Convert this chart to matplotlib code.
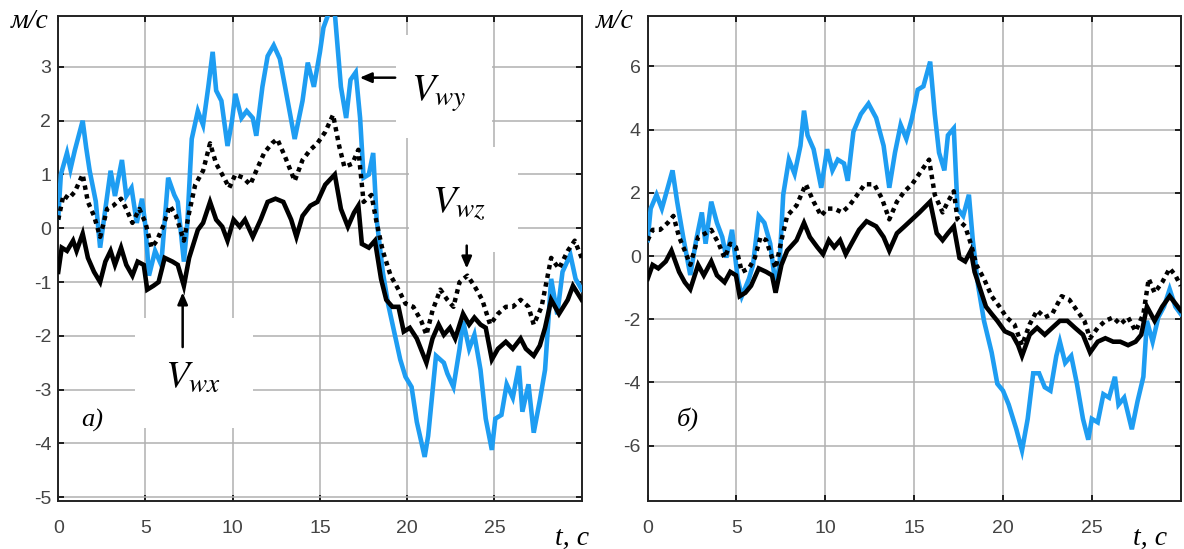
import numpy as np
import matplotlib.pyplot as plt
from matplotlib.patches import Rectangle

plt.rcParams['mathtext.fontset'] = 'stix'
plt.rcParams['axes.unicode_minus'] = False

# ---- panel a) ----
ta_y = [0, 0.15, 0.5, 0.7, 0.95, 1.4, 1.6, 1.8, 2.15, 2.4, 2.7, 3.0, 3.25, 3.65, 3.9, 4.2, 4.5, 4.8, 5.0, 5.2,
        5.55, 5.9, 6.3, 6.65, 6.85, 7.2, 7.4, 7.65, 8.0, 8.3, 8.6, 8.85, 9.05, 9.35, 9.7, 9.95, 10.15, 10.5, 10.8,
        11.15, 11.35, 11.7, 12.0, 12.35, 12.7, 13.0, 13.55, 14.0, 14.3, 14.65, 15.0, 15.2, 15.5, 15.85, 16.2, 16.5,
        16.75, 17.05, 17.3, 17.5, 17.8, 18.05, 18.25, 18.6, 18.9, 19.25, 19.6, 19.9, 20.25, 20.55, 21.0, 21.2,
        21.65, 22.1, 22.3, 22.65, 23.0, 23.2, 23.55, 23.85, 24.2, 24.5, 24.85, 25.05, 25.4, 25.7, 26.05, 26.4,
        26.6, 26.95, 27.25, 27.6, 27.9, 28.25, 28.6, 28.9, 29.35, 29.65, 30.0]
va_y = [0.2, 1.0, 1.4, 1.1, 1.45, 2.0, 1.5, 1.07, 0.5, -0.36, 0.36, 1.07, 0.6, 1.27, 0.6, 0.75, 0.1, 0.55, 0.03,
        -0.88, -0.42, -0.68, 0.94, 0.62, 0.49, -0.62, 0.1, 1.66, 2.18, 1.92, 2.63, 3.28, 2.56, 2.37, 1.53, 1.98,
        2.5, 2.05, 2.18, 2.05, 1.72, 2.63, 3.2, 3.4, 3.15, 2.63, 1.66, 2.37, 3.08, 2.63, 3.28, 3.73, 4.0, 4.0,
        2.63, 2.05, 2.76, 2.9, 2.05, 0.94, 1.0, 1.4, 0.16, -0.81, -1.4, -1.92, -2.44, -2.76, -2.95, -3.6, -4.25,
        -3.86, -2.37, -2.5, -2.7, -2.95, -2.24, -1.72, -2.24, -1.98, -2.63, -3.54, -4.12, -3.54, -3.47, -2.9,
        -3.15, -2.56, -3.41, -2.9, -3.8, -3.2, -2.63, -0.94, -1.6, -0.81, -0.49, -0.94, -1.14]

ta_x = [0, 0.2, 0.5, 0.85, 1.05, 1.4, 1.7, 2.05, 2.4, 2.7, 3.0, 3.25, 3.6, 3.9, 4.25, 4.55, 4.9, 5.1, 5.45, 5.75,
        6.1, 6.55, 6.85, 7.2, 7.5, 8.0, 8.3, 8.7, 9.05, 9.4, 9.7, 10.05, 10.4, 10.7, 11.15, 11.6, 12.0, 12.45,
        12.9, 13.35, 13.65, 14.0, 14.45, 14.85, 15.3, 15.85, 16.2, 16.6, 16.95, 17.2, 17.4, 17.8, 18.15, 18.5,
        18.8, 19.15, 19.5, 19.8, 20.15, 20.55, 21.1, 21.45, 21.8, 22.1, 22.45, 22.75, 23.2, 23.55, 23.85, 24.2,
        24.5, 24.85, 25.2, 25.65, 26.05, 26.5, 26.8, 27.25, 27.6, 27.9, 28.25, 28.7, 29.2, 29.5, 30.0]
va_x = [-0.81, -0.36, -0.42, -0.23, -0.42, -0.1, -0.55, -0.81, -1.0, -0.62, -0.42, -0.68, -0.36, -0.68, -0.88,
        -0.62, -0.68, -1.14, -1.07, -1.0, -0.55, -0.62, -0.68, -1.07, -0.55, -0.03, 0.1, 0.49, 0.16, 0.03, -0.23,
        0.16, 0.03, 0.16, -0.16, 0.16, 0.49, 0.55, 0.49, 0.16, -0.16, 0.23, 0.42, 0.49, 0.81, 1.0, 0.36, 0.03,
        0.29, 0.42, -0.29, -0.36, -0.23, -0.94, -1.33, -1.46, -1.46, -1.92, -1.85, -2.05, -2.5, -2.05, -1.79,
        -1.98, -1.85, -2.05, -1.59, -1.79, -1.66, -1.79, -1.85, -2.44, -2.24, -2.11, -2.24, -2.05, -2.24, -2.37,
        -2.18, -1.85, -1.33, -1.59, -1.33, -1.07, -1.33]

ta_z = [0, 0.3, 0.6, 0.95, 1.4, 1.7, 2.05, 2.4, 2.8, 3.15, 3.6, 3.9, 4.25, 4.65, 5.0, 5.35, 5.65, 6.0, 6.4, 6.75,
        7.2, 7.5, 7.85, 8.3, 8.7, 9.05, 9.5, 9.8, 10.15, 10.6, 11.0, 11.35, 11.8, 12.25, 12.55, 13.0, 13.55, 14.0,
        14.45, 14.85, 15.3, 15.75, 16.1, 16.4, 16.85, 17.2, 17.5, 17.95, 18.25, 18.6, 19.05, 19.5, 19.9, 20.35,
        20.8, 21.1, 21.45, 21.9, 22.3, 22.65, 23.0, 23.45, 23.85, 24.3, 24.75, 25.2, 25.65, 26.05, 26.5, 26.95,
        27.25, 27.7, 28.25, 28.7, 29.2, 29.6, 30.0]
va_z = [0.16, 0.62, 0.55, 0.68, 1.0, 0.49, 0.23, -0.16, 0.36, 0.42, 0.55, 0.36, 0.1, 0.36, 0.1, -0.36, -0.23,
        0.03, 0.42, 0.23, -0.23, 0.29, 0.81, 1.07, 1.58, 1.2, 0.94, 0.75, 1.0, 0.94, 0.81, 1.07, 1.4, 1.58, 1.66,
        1.33, 0.88, 1.27, 1.46, 1.58, 1.79, 2.11, 1.53, 1.14, 1.2, 1.46, 0.49, 0.62, 0.1, -0.42, -0.88, -1.14,
        -1.4, -1.46, -1.72, -1.98, -1.53, -1.14, -1.33, -1.46, -1.0, -0.88, -1.07, -1.33, -1.79, -1.59, -1.46,
        -1.46, -1.33, -1.46, -1.79, -1.46, -0.55, -0.75, -0.42, -0.23, -0.55]

# ---- panel б) ----
tb_y = [0, 0.17, 0.5, 0.8, 1.13, 1.4, 1.66, 2.0, 2.4, 2.73, 3.05, 3.26, 3.58, 3.9, 4.2, 4.43, 4.75, 5.07, 5.3,
        5.7, 5.93, 6.25, 6.57, 6.9, 7.2, 7.42, 7.63, 7.95, 8.27, 8.6, 8.8, 9.0, 9.34, 9.77, 10.1, 10.4, 10.7,
        11.05, 11.26, 11.58, 12.0, 12.43, 12.86, 13.28, 13.6, 13.92, 14.24, 14.56, 14.88, 15.2, 15.52, 15.9,
        16.16, 16.4, 16.7, 16.9, 17.23, 17.44, 17.76, 18.08, 18.3, 18.6, 18.93, 19.36, 19.68, 20.0, 20.32, 20.75,
        21.07, 21.39, 21.7, 22.03, 22.35, 22.67, 23.0, 23.2, 23.5, 23.84, 24.16, 24.5, 24.8, 25.0, 25.33, 25.65,
        25.97, 26.3, 26.5, 26.82, 27.25, 27.57, 27.9, 28.1, 28.42, 28.74, 29.06, 29.38, 29.7, 30.0]
vb_y = [0.5, 1.5, 1.94, 1.5, 2.16, 2.71, 1.72, 0.6, -0.6, 0.5, 1.38, 0.39, 1.72, 1.05, 0.6, -0.05, 0.83, -0.72,
        -1.27, -0.72, -0.28, 1.27, 1.05, 0.39, -0.94, -0.28, 1.94, 3.05, 2.6, 3.49, 4.6, 3.82, 3.38, 2.16, 3.38,
        2.71, 3.05, 2.93, 2.38, 3.93, 4.49, 4.82, 4.37, 3.49, 2.16, 3.27, 4.15, 3.71, 4.37, 5.26, 5.37, 6.15,
        4.49, 3.27, 2.71, 3.82, 4.04, 1.5, 1.27, 1.94, 0.5, -0.94, -2.05, -3.05, -4.04, -4.26, -4.7, -5.48, -6.15,
        -5.15, -3.71, -3.71, -4.15, -4.26, -3.16, -2.71, -3.38, -3.16, -4.04, -5.15, -5.81, -5.15, -5.26, -4.37,
        -4.48, -3.82, -4.7, -4.48, -5.48, -4.6, -3.82, -2.05, -2.71, -1.94, -1.6, -1.05, -1.6, -1.83]

tb_x = [0, 0.28, 0.6, 1.02, 1.34, 1.77, 2.09, 2.4, 2.84, 3.16, 3.58, 3.9, 4.33, 4.65, 4.97, 5.18, 5.5, 5.82,
        6.25, 6.67, 7.0, 7.2, 7.53, 7.85, 8.38, 8.8, 9.13, 9.55, 9.87, 10.2, 10.5, 10.83, 11.15, 11.47, 11.9,
        12.32, 12.86, 13.28, 13.6, 14.03, 14.46, 14.88, 15.3, 15.9, 16.27, 16.6, 16.9, 17.23, 17.55, 17.87, 18.19,
        18.4, 18.72, 19.04, 19.36, 19.68, 20.1, 20.53, 20.85, 21.07, 21.5, 21.92, 22.35, 22.77, 23.2, 23.62,
        24.05, 24.5, 24.9, 25.33, 25.76, 26.2, 26.6, 27.04, 27.46, 27.78, 28.1, 28.53, 28.96, 29.38, 29.7, 30.0]
vb_x = [-0.72, -0.28, -0.39, -0.17, 0.17, -0.5, -0.83, -1.05, -0.28, -0.61, -0.17, -0.61, -0.83, -0.5, -0.61,
        -1.27, -1.16, -0.94, -0.39, -0.5, -0.61, -1.16, -0.28, 0.17, 0.5, 1.05, 0.6, 0.28, 0.06, 0.5, 0.28, 0.5,
        0.06, 0.39, 0.83, 1.1, 0.94, 0.6, 0.17, 0.72, 0.94, 1.16, 1.38, 1.72, 0.72, 0.5, 0.72, 0.94, -0.06, -0.17,
        0.17, -0.5, -1.05, -1.6, -1.83, -2.05, -2.38, -2.49, -2.82, -3.16, -2.49, -2.27, -2.49, -2.27, -2.05,
        -2.05, -2.27, -2.49, -3.05, -2.71, -2.6, -2.71, -2.71, -2.82, -2.71, -2.49, -1.6, -2.05, -1.6, -1.27,
        -1.5, -1.72]

tb_z = [0, 0.28, 0.7, 1.13, 1.45, 1.77, 2.09, 2.4, 2.84, 3.26, 3.58, 4.0, 4.33, 4.65, 4.97, 5.3, 5.7, 6.03, 6.35,
        6.67, 7.2, 7.53, 7.85, 8.38, 8.9, 9.34, 9.77, 10.1, 10.5, 10.94, 11.36, 11.8, 12.22, 12.75, 13.18, 13.6,
        14.03, 14.46, 14.88, 15.42, 15.84, 16.16, 16.6, 16.9, 17.23, 17.44, 17.87, 18.19, 18.5, 18.93, 19.36,
        19.8, 20.2, 20.64, 21.07, 21.5, 21.92, 22.35, 22.77, 23.3, 23.73, 24.16, 24.58, 24.9, 25.33, 25.76, 26.2,
        26.6, 27.04, 27.46, 27.9, 28.2, 28.53, 28.96, 29.38, 29.7, 30.0]
vb_z = [0.5, 0.83, 0.83, 1.05, 1.27, 0.6, 0.17, -0.28, 0.6, 0.72, 0.83, 0.39, -0.06, 0.39, 0.28, -0.5, -0.39,
        -0.06, 0.6, 0.5, -0.39, 0.5, 1.27, 1.6, 2.27, 1.72, 1.27, 1.5, 1.5, 1.38, 1.6, 1.94, 2.27, 2.27, 1.83,
        1.16, 1.72, 2.05, 2.27, 2.71, 3.05, 1.94, 1.38, 1.72, 2.05, 1.16, 0.94, 0.39, -0.28, -0.72, -1.27, -1.6,
        -1.94, -2.16, -2.82, -2.16, -1.72, -1.94, -1.83, -1.27, -1.38, -1.72, -2.05, -2.6, -2.27, -2.05, -1.94,
        -2.16, -1.94, -2.38, -1.83, -0.72, -1.16, -0.83, -0.39, -0.61, -0.94]

blue = '#1e9df2'
tick_col = '#444444'

fig = plt.figure(figsize=(11.84, 5.49), dpi=100)
ax1 = fig.add_axes([0.0492, 0.0874, 0.4421, 0.8838])
ax2 = fig.add_axes([0.547, 0.0874, 0.4502, 0.8838])


def style_axes(ax, yticks, ylim):
    ax.set_xlim(0, 30)
    ax.set_ylim(*ylim)
    ax.set_xticks([0, 5, 10, 15, 20, 25])
    ax.set_yticks(yticks)
    ax.set_axisbelow(True)
    ax.grid(True, color='#b0b0b0', linewidth=1.1)
    for s in ax.spines.values():
        s.set_color('#222222')
        s.set_linewidth(1.4)
    ax.tick_params(axis='both', direction='in', length=4, width=1.2,
                   top=True, right=True, labelcolor=tick_col, labelsize=14)
    ax.tick_params(axis='x', pad=14)
    ax.tick_params(axis='y', pad=5)
    for lb in ax.get_xticklabels() + ax.get_yticklabels():
        lb.set_family('Liberation Sans')


def draw(ax, t1, v1, t2, v2, t3, v3):
    ax.plot(t1, v1, color=blue, lw=3.3, solid_joinstyle='miter', zorder=3)
    ax.plot(t2, v2, color='black', lw=3.3, solid_joinstyle='miter', zorder=4)
    ax.plot(t3, v3, color='black', lw=3.2, linestyle=(0, (1, 1.0)), zorder=5)


draw(ax1, ta_y, va_y, ta_x, va_x, ta_z, va_z)
draw(ax2, tb_y, vb_y, tb_x, vb_x, tb_z, vb_z)
style_axes(ax1, [-5, -4, -3, -2, -1, 0, 1, 2, 3], (-5.07, 3.95))
style_axes(ax2, [-6, -4, -2, 0, 2, 4, 6], (-7.75, 7.6))

# white patches behind the labels
for (x0, y0, w, h) in [(19.36, 1.68, 5.5, 1.92), (20.1, -0.44, 6.25, 1.95), (4.4, -3.71, 6.76, 2.05)]:
    ax1.add_patch(Rectangle((x0, y0), w, h, facecolor='white', edgecolor='none', zorder=1))

lab = dict(fontsize=28, color='black', zorder=6)
ax1.text(20.2, 2.5, '$V_{wy}$', ha='left', va='center', **lab)
ax1.text(21.4, 0.45, '$V_{wz}$', ha='left', va='center', **lab)
ax1.text(6.1, -2.75, '$V_{wx}$', ha='left', va='center', **lab)
arr = dict(arrowstyle='-|>,head_length=0.7,head_width=0.3', color='black', lw=1.8)
ax1.annotate('', xy=(17.12, 2.8), xytext=(19.47, 2.8), arrowprops=arr, zorder=6)
ax1.annotate('', xy=(23.41, -0.8), xytext=(23.41, -0.27), arrowprops=arr, zorder=6)
ax1.annotate('', xy=(7.13, -1.14), xytext=(7.13, -2.26), arrowprops=arr, zorder=6)

serif = dict(family='Liberation Serif', style='italic', color='black')
ax1.text(1.94, -3.58, 'a)', ha='center', va='center', fontsize=19, **serif)
ax2.text(2.27, -5.15, 'б)', ha='center', va='center', fontsize=19, **serif)

fig.text(30 / 1184, 1 - 22 / 549, 'м/с', ha='center', va='center', fontsize=20, **serif)
fig.text(615 / 1184, 1 - 22 / 549, 'м/с', ha='center', va='center', fontsize=20, **serif)
fig.text(572 / 1184, 1 - 538 / 549, 't, c', ha='center', va='center', fontsize=20, **serif)
fig.text(1150 / 1184, 1 - 538 / 549, 't, c', ha='center', va='center', fontsize=20, **serif)

fig.savefig('out.png', dpi=100)
